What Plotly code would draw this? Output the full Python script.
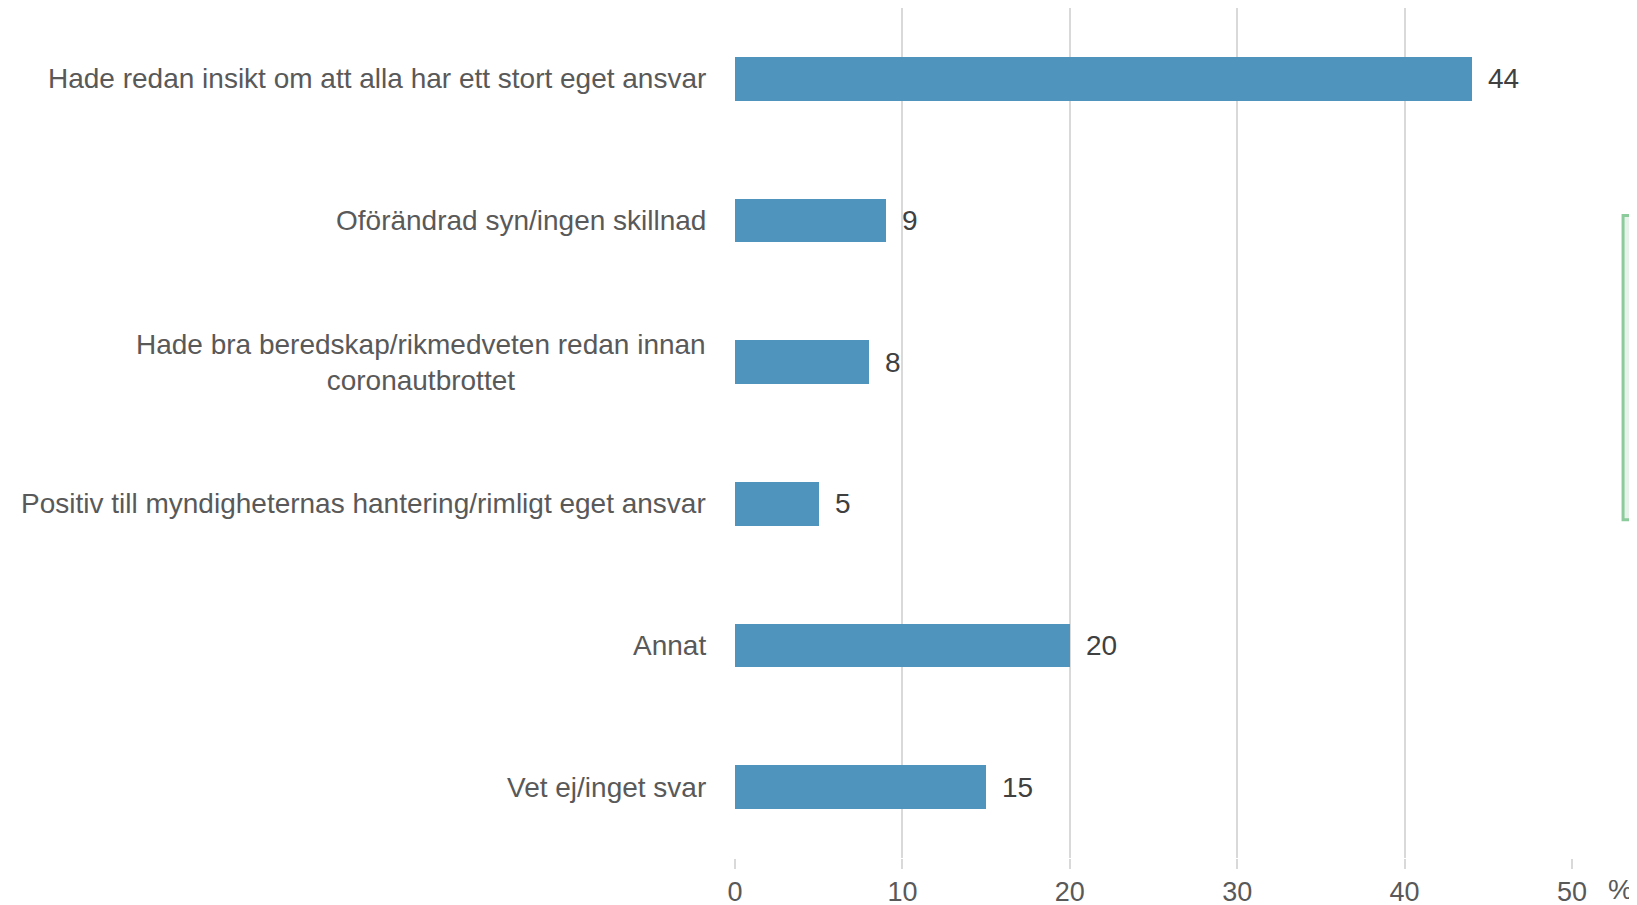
import plotly.graph_objects as go

categories = [
    "Hade redan insikt om att alla har ett stort eget ansvar",
    "Oförändrad syn/ingen skillnad",
    "Hade bra beredskap/rikmedveten redan innan<br>coronautbrottet",
    "Positiv till myndigheternas hantering/rimligt eget ansvar",
    "Annat",
    "Vet ej/inget svar",
]
values = [44, 9, 8, 5, 20, 15]
tick_vals = [0, 10, 20, 30, 40, 50]
unit_label = "%"

FONT = "Liberation Sans, Arial, sans-serif"
TXT = "#595959"

fig = go.Figure()
fig.add_trace(go.Bar(
    y=list(range(len(categories))),
    x=values,
    orientation="h",
    marker=dict(color="#4f94bd", line=dict(width=0)),
    width=0.31,
    hoverinfo="skip",
))

annotations = []
for i, (c, v) in enumerate(zip(categories, values)):
    annotations.append(dict(
        x=0, y=i, xref="x", yref="y", text=c, showarrow=False,
        xanchor="right", yanchor="middle", align="center", xshift=-27,
        font=dict(family=FONT, size=28, color=TXT),
    ))
    annotations.append(dict(
        x=v, y=i, xref="x", yref="y", text=str(v), showarrow=False,
        xanchor="left", yanchor="middle", xshift=14,
        font=dict(family=FONT, size=28, color="#404040"),
    ))
annotations.append(dict(
    x=1.0585, y=-0.037, xref="paper", yref="paper", text=unit_label,
    showarrow=False, xanchor="center", yanchor="middle",
    font=dict(family=FONT, size=28, color=TXT),
))

fig.update_layout(
    width=1637, height=905,
    margin=dict(l=727, r=73, t=0, b=55),
    plot_bgcolor="white", paper_bgcolor="white",
    showlegend=False,
    bargap=0,
    annotations=annotations,
    xaxis=dict(
        range=[0, 50], tickvals=tick_vals, showgrid=True, gridcolor="#d9d9d9",
        gridwidth=1.5, zeroline=False, showline=False,
        ticks="outside", ticklen=10, tickcolor="#d9d9d9", tickwidth=1.5,
        ticklabelstandoff=0,
        tickfont=dict(family=FONT, size=27, color=TXT),
    ),
    yaxis=dict(
        range=[5.5, -0.5], showticklabels=False, showgrid=False,
        zeroline=False, showline=False, ticks="",
    ),
    shapes=[dict(
        type="rect", xref="paper", yref="paper",
        x0=1.061, x1=1.3, y0=0.398, y1=0.756,
        line=dict(color="#8ccb9c", width=3), fillcolor="#e6f2ea",
    )],
)

fig.write_html("out.html")
